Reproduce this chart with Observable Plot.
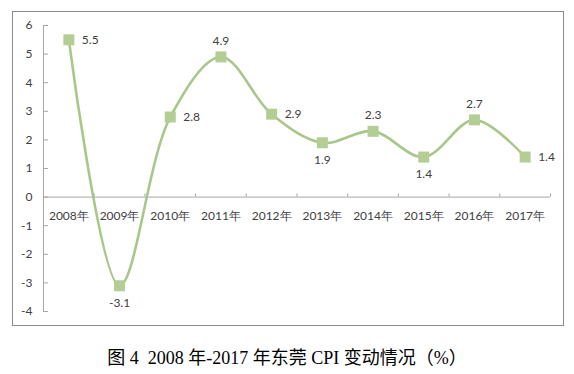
<!DOCTYPE html>
<html>
<head>
<meta charset="utf-8">
<script src="https://cdn.jsdelivr.net/npm/d3@7"></script>
<script src="https://cdn.jsdelivr.net/npm/@observablehq/plot@0.6"></script>
<style>
  html, body { margin: 0; padding: 0; background: #fff; }
  #wrap { position: relative; width: 574px; height: 374px; }
  #frame { position: absolute; left: 12px; top: 11px; width: 550px; height: 313px; border: 1px solid #8c8c8c; }
  #chart { position: absolute; left: 0; top: 0; }
  #caption { position: absolute; left: 0; width: 574px; top: 343px; text-align: center;
    font-family: "Liberation Serif", "Noto Sans CJK SC", serif; font-size: 18px; color: #000; }
</style>
</head>
<body>
<div id="wrap">
  <div id="frame"></div>
  <div id="chart"></div>
  <div id="caption">图 4&nbsp; 2008 年-2017 年东莞 CPI 变动情况（%）</div>
</div>
<script>
// ---- data ----
const years = [2008, 2009, 2010, 2011, 2012, 2013, 2014, 2015, 2016, 2017];
const cpi = [5.5, -3.1, 2.8, 4.9, 2.9, 1.9, 2.3, 1.4, 2.7, 1.4];
const yTicks = [-4, -3, -2, -1, 0, 1, 2, 3, 4, 5, 6];

// ---- build ----
const data = years.map((y, i) => ({year: y, value: cpi[i]}));
const boundaries = [years[0] - 0.5, ...years.map(y => y + 0.5)];
const xMin = years[0] - 0.5, xMax = years[years.length - 1] + 0.5;

const rightLabels = new Set([2008, 2010, 2012, 2017]);
const aboveLabels = new Set([2011, 2014, 2016]);
const belowLabels = new Set([2009, 2013, 2015]);

const axisColor = "#a6a6a6";
const textColor = "#404040";
const font = "Lato, 'Open Sans', sans-serif";

const chart = Plot.plot({
  width: 574,
  height: 330,
  marginTop: 25,
  marginBottom: 19,
  marginLeft: 43,
  marginRight: 24,
  style: {fontFamily: font, fontSize: "12px", background: "transparent", overflow: "visible"},
  x: {type: "linear", domain: [xMin, xMax], axis: null},
  y: {domain: [yTicks[0], yTicks[yTicks.length - 1]], axis: null},
  marks: [
    Plot.axisY(yTicks, {anchor: "left", label: null, tickSize: 0, tickPadding: 11, tickFormat: d => String(d), fill: textColor, fontSize: 12}),
    Plot.ruleX([xMin], {y1: yTicks[0], y2: yTicks[yTicks.length - 1], stroke: axisColor}),
    Plot.ruleY(yTicks, {y: d => d, x1: xMin, x2: xMin + 0.1, stroke: axisColor}),
    Plot.ruleY([0], {x1: xMin, x2: xMax, stroke: axisColor}),
    Plot.ruleX(boundaries, {x: d => d, y1: 0, y2: 0.11, stroke: axisColor}),
    Plot.text(years, {x: d => d, y: 0, text: d => d + "年", dy: 19, fill: textColor, fontSize: 12}),
    Plot.line(data, {x: "year", y: "value", curve: "catmull-rom", stroke: "#a9c78b", strokeWidth: 2.6}),
    Plot.dot(data, {x: "year", y: "value", symbol: "square", r: 6.2, fill: "#b3cd94", stroke: null}),
    Plot.text(data.filter(d => rightLabels.has(d.year)), {x: "year", y: "value", text: d => d.value.toFixed(1), textAnchor: "start", dx: 13, fill: textColor, fontSize: 12}),
    Plot.text(data.filter(d => aboveLabels.has(d.year)), {x: "year", y: "value", text: d => d.value.toFixed(1), dy: -16, fill: textColor, fontSize: 12}),
    Plot.text(data.filter(d => belowLabels.has(d.year)), {x: "year", y: "value", text: d => d.value.toFixed(1), dy: 17, fill: textColor, fontSize: 12})
  ]
});
document.getElementById("chart").appendChild(chart);
</script>
</body>
</html>
